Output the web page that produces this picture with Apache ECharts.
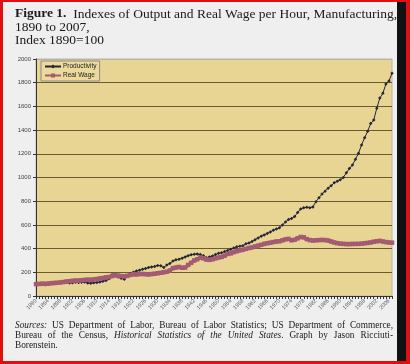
<!DOCTYPE html>
<html><head><meta charset="utf-8">
<script src="https://cdn.jsdelivr.net/npm/echarts@6/dist/echarts.min.js"></script>
<style>html,body{margin:0;padding:0;background:#efefef;}#c{width:410px;height:364px;}</style>
</head><body><div id="c"></div>
<script>
const startYear = 1890, endYear = 2007;
const years = [];
for (let y = startYear; y <= endYear; y++) years.push(String(y));

const productivity = [
100,102,97,95,100,103,106,110,115,120,
116,110,112,115,113,116,118,110,107,112,
114,118,124,130,145,180,172,160,150,141,
170,190,200,210,218,225,232,240,245,250,
258,255,240,262,275,295,305,310,318,330,
340,348,352,355,350,340,322,330,338,350,
360,365,375,385,395,405,415,420,425,440,
448,460,475,490,505,515,528,540,555,565,
575,600,625,645,655,670,705,735,745,748,
745,752,796,830,860,885,910,930,955,968,
980,1000,1040,1075,1105,1155,1205,1275,1335,1390,
1455,1485,1585,1670,1710,1790,1815,1880
];
const realWage = [
100,102,104,103,105,108,110,112,114,118,
122,125,128,130,130,133,136,138,137,140,
143,148,152,157,160,168,175,172,168,165,
170,178,184,182,185,186,184,182,185,188,
192,196,200,205,215,235,240,245,238,240,
262,280,300,310,325,318,308,305,310,318,
325,330,340,355,360,370,378,385,390,398,
405,410,418,425,432,440,445,450,455,460,
462,470,478,482,470,475,487,498,495,480,
472,468,470,472,473,472,468,460,452,446,
442,440,438,438,439,440,440,442,445,448,
452,458,462,465,460,455,452,450
];
const yTicks = {min: 0, max: 2000, interval: 200};
const titleLines = [
  [{t:'Figure 1.', b:true}, {t:'  Indexes of Output and Real Wage per Hour, Manufacturing,'}],
  [{t:'1890 to 2007,'}],
  [{t:'Index 1890=100'}]
];
const sourceLines = [
  {justify:true, words:[['Sources:',1],['US',0],['Department',0],['of',0],['Labor,',0],['Bureau',0],['of',0],['Labor',0],['Statistics;',0],['US',0],['Department',0],['of',0],['Commerce,',0]]},
  {justify:true, words:[['Bureau',0],['of',0],['the',0],['Census,',0],['Historical',1],['Statistics',1],['of',1],['the',1],['United',1],['States',1],['.',0,true],['Graph',0],['by',0],['Jason',0],['Ricciuti-',0]]},
  {justify:false, words:[['Borenstein.',0]]}
];

const chart = echarts.init(document.getElementById('c'), null, {renderer:'canvas'});
const ctx = document.createElement('canvas').getContext('2d');
function fontStr(size, italic, bold){ return (italic?'italic ':'')+(bold?'bold ':'')+size+'px "Liberation Serif"'; }

const graphics = [];
graphics.push({type:'rect', shape:{x:397,y:0,width:9,height:364}, style:{fill:'#111'}, z:100, silent:true});
graphics.push({type:'rect', shape:{x:0,y:0,width:3,height:364}, style:{fill:'#e01010'}, z:101, silent:true});
graphics.push({type:'rect', shape:{x:406,y:0,width:4,height:364}, style:{fill:'#e01010'}, z:101, silent:true});
graphics.push({type:'rect', shape:{x:0,y:0,width:410,height:2}, style:{fill:'#e01010'}, z:101, silent:true});
graphics.push({type:'rect', shape:{x:0,y:361,width:410,height:3}, style:{fill:'#e01010'}, z:101, silent:true});

const titleTop = [7, 20, 33];
titleLines.forEach((line, i) => {
  let x = 15;
  line.forEach(seg => {
    const f = fontStr(13.5, false, seg.b);
    ctx.font = f;
    graphics.push({type:'text', x:x, y:titleTop[i], style:{text:seg.t, font:f, fill:'#1a1a1a', verticalAlign:'top'}, silent:true});
    x += ctx.measureText(seg.t).width;
  });
});

const srcTop = [321, 331, 341];
const srcLeft = 15, srcRight = 393, srcSize = 9.3;
sourceLines.forEach((line, i) => {
  const items = line.words.map(w => { const f = fontStr(srcSize, !!w[1], false); ctx.font = f; return {t:w[0], f:f, w:ctx.measureText(w[0]).width, attach:!!w[2]}; });
  let gaps = 0, total = 0;
  items.forEach((it, k) => { total += it.w; if (k>0 && !it.attach) gaps++; });
  ctx.font = fontStr(srcSize,false,false);
  const sp = line.justify ? (srcRight - srcLeft - total)/gaps : ctx.measureText(' ').width;
  let x = srcLeft;
  items.forEach((it, k) => {
    if (k>0 && !it.attach) x += sp;
    graphics.push({type:'text', x:x, y:srcTop[i], style:{text:it.t, font:it.f, fill:'#1a1a1a', verticalAlign:'top'}, silent:true});
    x += it.w;
  });
});

const splitColors = ['#6a5a30','#6a5a30','#6a5a30','#6a5a30','#6a5a30','#6a5a30','#6a5a30','#6a5a30','#6a5a30','#6a5a30','#b8b4a8'];

chart.setOption({
  backgroundColor:'#efefef',
  animation:false,
  graphic: graphics,
  grid:{left:36, right:18, top:59, bottom:68, show:true, backgroundColor:'#e9d593', borderColor:'#b8b4a8', borderWidth:1},
  legend:{
    data:['Productivity','Real Wage'], orient:'vertical', left:41, top:61,
    backgroundColor:'#ecd99c', borderColor:'#8a8a8a', borderWidth:1, borderRadius:0,
    padding:[2,3,2,3], itemGap:2, itemWidth:16, itemHeight:5,
    textStyle:{fontSize:6.5, fontFamily:'Liberation Sans', color:'#222', padding:[0,0,0,-3]}
  },
  xAxis:{
    type:'category', data:years, boundaryGap:false,
    axisLine:{lineStyle:{color:'#333', width:1}},
    axisTick:{show:true, interval:0, length:3, lineStyle:{color:'#333'}},
    axisLabel:{interval:3, rotate:45, fontSize:5.5, fontFamily:'Liberation Sans', color:'#555', margin:4},
    splitLine:{show:false}
  },
  yAxis:{
    type:'value', min:yTicks.min, max:yTicks.max, interval:yTicks.interval,
    axisLine:{show:true, lineStyle:{color:'#333'}},
    axisTick:{show:true, length:3, lineStyle:{color:'#333'}},
    axisLabel:{fontSize:6, fontFamily:'Liberation Sans', color:'#444', margin:5, formatter: v => String(v)},
    splitLine:{show:true, lineStyle:{color:splitColors, width:1}}
  },
  series:[
    {name:'Productivity', type:'line', data:productivity, z:3,
     symbol:'diamond', symbolSize:3.5, showSymbol:true, showAllSymbol:true,
     lineStyle:{color:'#25253a', width:1}, itemStyle:{color:'#25253a'}},
    {name:'Real Wage', type:'line', data:realWage, z:4,
     symbol:'rect', symbolSize:4.5, showSymbol:true, showAllSymbol:true,
     lineStyle:{color:'#a45a72', width:3.5}, itemStyle:{color:'#a45a72'}}
  ]
});
</script></body></html>
